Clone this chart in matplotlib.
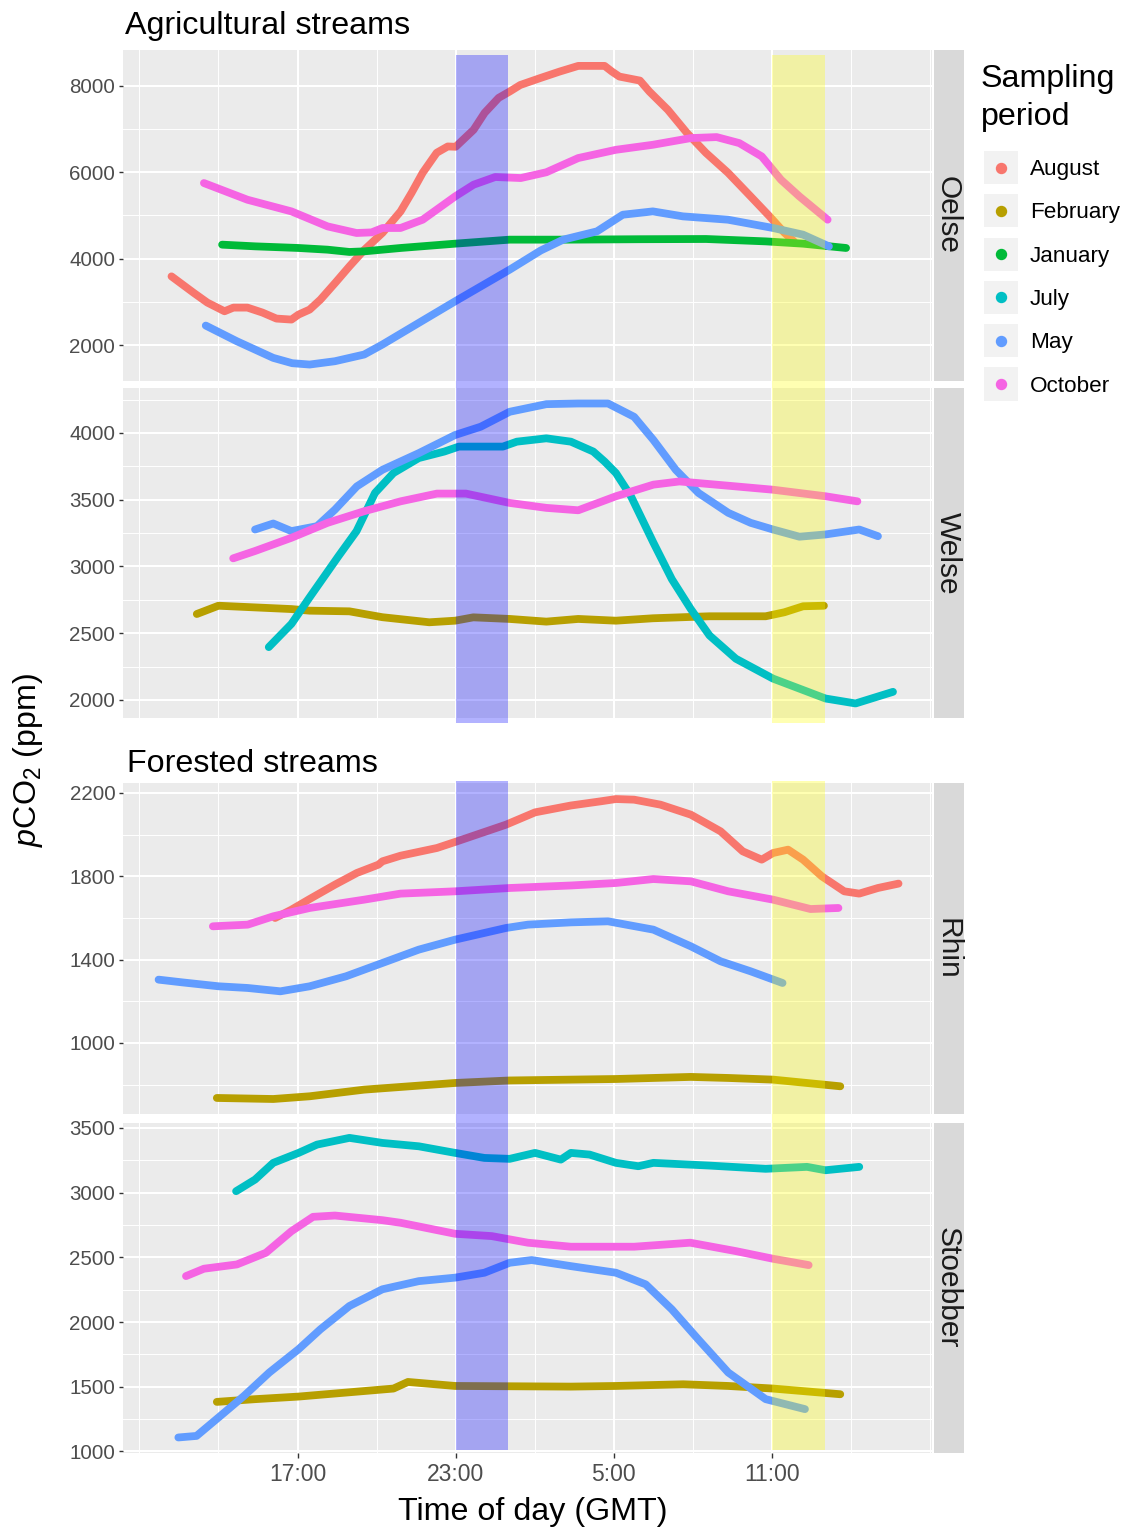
import matplotlib

matplotlib.use("Agg")
import matplotlib.pyplot as plt
from matplotlib.lines import Line2D
from matplotlib.patches import Rectangle
from matplotlib.transforms import blended_transform_factory

plt.rcParams["font.family"] = ["Liberation Sans", "DejaVu Sans"]
plt.rcParams["mathtext.fontset"] = "custom"
plt.rcParams["mathtext.rm"] = "Liberation Sans"
plt.rcParams["mathtext.it"] = "Liberation Sans:italic"

# Time axis is in hours from midnight of the first sampling day;
# values above 24 are the following morning (29 = 05:00, 35 = 11:00).
MONTHS = ["August", "February", "January", "July", "May", "October"]
COLOURS = ["#F8766D", "#B79F00", "#00BA38", "#00BFC4", "#619CFF", "#F564E3"]

XTICKS = [17, 23, 29, 35]
XTICK_LABELS = ["17:00", "23:00", "5:00", "11:00"]
XMINOR = [11, 14, 20, 26, 32, 38, 41]

NIGHT = (23, 25)   # 23:00 - 01:00
NOON = (35, 37)    # 11:00 - 13:00

OELSE = {
    "August": (
        [12.22, 13.05, 13.58, 14.23, 14.57, 15.10, 15.67, 16.20, 16.77, 17.04, 17.46,
         17.87, 18.44, 18.97, 19.54, 20.23, 20.91, 21.33, 21.75, 22.28, 22.70, 23.00,
         23.68, 24.10, 24.63, 25.05, 25.45, 26.23, 26.94, 27.65, 28.65, 28.93, 29.21,
         29.99, 30.35, 31.05, 31.77, 32.49, 33.33, 34.19, 34.91, 35.47, 35.83],
        [3590, 3214, 2983, 2782, 2867, 2867, 2752, 2613, 2590, 2706, 2821,
         3052, 3446, 3822, 4208, 4601, 5094, 5526, 5989, 6451, 6597, 6590,
         6983, 7376, 7722, 7869, 8020, 8185, 8330, 8462, 8462, 8330, 8215,
         8122, 7868, 7445, 6913, 6451, 5989, 5441, 4978, 4601, 4400],
    ),
    "January": (
        [14.14, 15.39, 17.04, 18.14, 18.97, 19.53, 20.91, 22.98, 25.05, 27.25, 30.0,
         32.5, 34.76, 36.18, 37.81],
        [4324, 4285, 4247, 4208, 4155, 4169, 4247, 4347, 4440, 4440, 4450,
         4455, 4400, 4347, 4247],
    ),
    "May": (
        [13.52, 14.70, 16.08, 16.80, 17.46, 18.42, 19.53, 20.22, 21.60, 22.98, 25.05,
         26.23, 27.08, 28.36, 29.34, 30.48, 31.62, 33.33, 35.04, 36.18, 37.16],
        [2451, 2088, 1703, 1580, 1549, 1626, 1781, 2012, 2513, 3013, 3746,
         4190, 4440, 4632, 5017, 5094, 4979, 4902, 4710, 4555, 4285],
    ),
    "October": (
        [13.45, 15.10, 16.77, 18.14, 19.24, 19.81, 20.23, 20.91, 21.75, 22.98, 23.68,
         24.50, 25.47, 26.44, 27.65, 29.08, 30.48, 31.92, 32.90, 33.76, 34.61, 35.34,
         36.04, 37.11],
        [5750, 5364, 5094, 4747, 4594, 4608, 4710, 4710, 4902, 5441, 5712,
         5890, 5866, 6000, 6329, 6520, 6636, 6791, 6814, 6675, 6367, 5827,
         5441, 4902],
    ),
}

WELSE = {
    "February": (
        [13.18, 14.0, 16.77, 17.46, 18.97, 20.22, 22.0, 22.98, 23.67, 25.05, 26.44,
         27.65, 29.08, 30.48, 32.63, 34.76, 35.47, 36.18, 36.97],
        [2644, 2706, 2681, 2669, 2664, 2620, 2582, 2594, 2619, 2607, 2587,
         2607, 2594, 2612, 2627, 2627, 2657, 2702, 2706],
    ),
    "July": (
        [15.91, 16.77, 17.46, 18.56, 19.24, 19.94, 20.64, 21.60, 22.57, 23.12, 24.79,
         25.32, 26.44, 27.37, 28.22, 28.65, 29.08, 29.65, 30.50, 31.20, 31.92, 32.63,
         33.63, 35.04, 37.03, 38.17, 39.59],
        [2396, 2570, 2769, 3079, 3265, 3551, 3700, 3812, 3861, 3898, 3898,
         3935, 3960, 3935, 3861, 3786, 3700, 3526, 3179, 2905, 2681, 2483,
         2309, 2160, 2011, 1974, 2061],
    ),
    "May": (
        [15.39, 16.08, 16.77, 17.74, 18.42, 19.25, 20.22, 21.60, 22.98, 23.95, 25.05,
         26.44, 27.65, 28.78, 29.77, 30.50, 31.35, 32.21, 33.34, 34.19, 35.04, 36.04,
         37.03, 38.31, 39.02],
        [3277, 3322, 3265, 3302, 3426, 3600, 3724, 3849, 3985, 4047, 4159,
         4216, 4221, 4221, 4121, 3948, 3724, 3551, 3402, 3327, 3277, 3223,
         3240, 3277, 3227],
    ),
    "October": (
        [14.56, 15.39, 16.77, 18.14, 19.53, 20.91, 22.29, 23.39, 25.05, 26.44, 27.65,
         29.08, 30.50, 31.49, 33.34, 35.04, 37.03, 38.24],
        [3061, 3116, 3215, 3327, 3414, 3488, 3546, 3546, 3476, 3439, 3421,
         3526, 3613, 3637, 3605, 3575, 3526, 3488],
    ),
}

RHIN = {
    "August": (
        [16.15, 16.77, 17.46, 18.42, 19.25, 20.07, 20.22, 20.91, 22.29, 23.05, 24.91,
         26.01, 27.37, 28.50, 29.08, 29.77, 30.77, 31.92, 33.05, 33.89, 34.61, 35.04,
         35.61, 36.18, 36.89, 37.74, 38.31, 39.02, 39.80],
        [1600, 1640, 1691, 1760, 1816, 1856, 1872, 1899, 1936, 1968, 2048,
         2107, 2140, 2160, 2171, 2168, 2144, 2096, 2016, 1920, 1880, 1912,
         1928, 1880, 1800, 1728, 1717, 1744, 1765],
    ),
    "February": (
        [13.94, 16.08, 17.46, 19.53, 22.98, 25.05, 27.37, 29.08, 31.92, 33.34, 35.04,
         37.59],
        [736, 731, 744, 776, 808, 820, 824, 827, 837, 832, 824,
         792],
    ),
    "May": (
        [11.73, 12.62, 14.01, 15.11, 16.35, 17.46, 18.84, 20.22, 21.60, 22.98, 24.91,
         25.74, 27.37, 28.78, 30.50, 31.92, 33.05, 34.19, 35.40],
        [1304, 1291, 1272, 1264, 1248, 1272, 1320, 1384, 1448, 1496, 1552,
         1568, 1579, 1584, 1544, 1464, 1392, 1344, 1288],
    ),
    "October": (
        [13.79, 15.11, 16.08, 17.46, 19.53, 20.91, 22.98, 25.05, 27.37, 29.08, 30.50,
         31.92, 33.34, 35.04, 36.46, 37.52],
        [1560, 1568, 1608, 1648, 1688, 1717, 1728, 1744, 1756, 1768, 1787,
         1776, 1728, 1688, 1643, 1648],
    ),
}

STOEBBER = {
    "February": (
        [13.94, 15.39, 17.04, 18.84, 20.64, 21.19, 22.98, 27.37, 29.08, 31.63, 33.34,
         35.04, 37.59],
        [1383, 1404, 1424, 1455, 1486, 1537, 1506, 1501, 1506, 1519, 1506,
         1486, 1442],
    ),
    "July": (
        [14.67, 15.39, 16.08, 17.04, 17.74, 18.97, 20.22, 21.60, 22.98, 24.09, 25.05,
         26.01, 26.99, 27.37, 28.08, 29.08, 29.93, 30.50, 32.63, 34.76, 36.33, 37.03,
         38.31],
        [3011, 3101, 3230, 3307, 3371, 3423, 3384, 3358, 3307, 3268, 3261,
         3307, 3255, 3307, 3294, 3230, 3204, 3230, 3209, 3184, 3199, 3173,
         3199],
    ),
    "May": (
        [12.48, 13.17, 14.0, 14.97, 15.93, 17.04, 17.87, 18.97, 20.22, 21.60, 22.98,
         24.09, 25.05, 25.88, 27.37, 29.08, 30.21, 31.20, 32.20, 33.34, 34.76, 36.25],
        [1108, 1120, 1262, 1429, 1610, 1790, 1944, 2124, 2253, 2316, 2343,
         2381, 2458, 2479, 2432, 2381, 2291, 2098, 1867, 1610, 1404, 1327],
    ),
    "October": (
        [12.77, 13.45, 14.70, 15.80, 16.77, 17.59, 18.42, 20.22, 20.91, 22.98, 24.37,
         25.74, 27.37, 29.77, 31.90, 33.63, 35.04, 36.39],
        [2355, 2412, 2445, 2535, 2702, 2813, 2823, 2787, 2767, 2682, 2664,
         2613, 2582, 2582, 2613, 2548, 2489, 2440],
    ),
}

W, H = 1127, 1530
PANEL_LEFT, PANEL_RIGHT = 123, 932
XLIM = (10.38, 41.07)

# name, data, top px, bottom px, ylim, major ticks, minor gridlines
PANELS = [
    ("Oelse", OELSE, 50, 381, (1168, 8830), [2000, 4000, 6000, 8000], [3000, 5000, 7000]),
    ("Welse", WELSE, 388, 718, (1865, 4337), [2000, 2500, 3000, 3500, 4000],
     [2250, 2750, 3250, 3750, 4250]),
    ("Rhin", RHIN, 783, 1114, (659, 2248), [1000, 1400, 1800, 2200], [800, 1200, 1600, 2000]),
    ("Stoebber", STOEBBER, 1123, 1453, (988, 3538), [1000, 1500, 2000, 2500, 3000, 3500],
     [1250, 1750, 2250, 2750, 3250]),
]


def fx(px):
    return px / W


def fy(py):
    return 1 - py / H


fig = plt.figure(figsize=(W / 100, H / 100), dpi=100)

axes = []
for i, (name, data, top, bottom, ylim, yticks, yminor) in enumerate(PANELS):
    ax = fig.add_axes([fx(PANEL_LEFT), fy(bottom), (PANEL_RIGHT - PANEL_LEFT) / W, (bottom - top) / H])
    ax.set_facecolor("#EBEBEB")
    for s in ax.spines.values():
        s.set_visible(False)
    ax.set_xlim(*XLIM)
    ax.set_ylim(*ylim)
    ax.set_xticks(XTICKS)
    ax.set_xticks(XMINOR, minor=True)
    ax.set_yticks(yticks)
    ax.set_yticks(yminor, minor=True)
    ax.grid(which="major", color="white", lw=1.5)
    ax.grid(which="minor", color="white", lw=0.7)
    ax.set_axisbelow(True)
    ax.tick_params(axis="y", which="major", length=3, width=1, color="#333333",
                   labelsize=14.8, labelcolor="#4D4D4D", pad=2.5)
    ax.tick_params(which="minor", length=0)
    if i == len(PANELS) - 1:
        ax.set_xticklabels(XTICK_LABELS)
        ax.tick_params(axis="x", which="major", length=3.5, width=1, color="#333333",
                       labelsize=16.5, labelcolor="#4D4D4D", pad=4)
    else:
        ax.tick_params(axis="x", which="major", length=0, labelbottom=False)

    for month, colour in zip(MONTHS, COLOURS):
        if month in data:
            t, v = data[month]
            ax.plot(t, v, color=colour, lw=5.6, solid_capstyle="round",
                    solid_joinstyle="round", zorder=3)

    # facet strip on the right
    sax = fig.add_axes([fx(934), fy(bottom), 30 / W, (bottom - top) / H])
    sax.set_facecolor("#D9D9D9")
    sax.set_xticks([])
    sax.set_yticks([])
    for s in sax.spines.values():
        s.set_visible(False)
    sax.text(0.45, 0.5, name, rotation=-90, ha="center", va="center",
             fontsize=21.5, color="#1A1A1A", transform=sax.transAxes)
    axes.append(ax)

# night and midday shading across each group of panels
tr = blended_transform_factory(axes[0].transData, fig.transFigure)
for top, bottom in [(55, 723), (781, 1450)]:
    for (x0, x1), colour in [(NIGHT, "blue"), (NOON, "yellow")]:
        rect = Rectangle((x0, fy(bottom)), x1 - x0, (bottom - top) / H, transform=tr,
                         facecolor=colour, edgecolor="none", alpha=0.3, zorder=10)
        fig.add_artist(rect)

fig.text(fx(125), fy(34), "Agricultural streams", fontsize=23.2, va="baseline", ha="left")
fig.text(fx(127), fy(772), "Forested streams", fontsize=23.2, va="baseline", ha="left")
fig.text(fx(533), fy(1520), "Time of day (GMT)", fontsize=23.2, va="baseline", ha="center")
fig.text(fx(28), fy(760), r"$p$CO$_2$ (ppm)", fontsize=23.2, rotation=90,
         ha="center", va="center")

# legend
fig.text(fx(981), fy(87), "Sampling", fontsize=23.2, va="baseline", ha="left")
fig.text(fx(981), fy(125), "period", fontsize=23.2, va="baseline", ha="left")
for i, (month, colour) in enumerate(zip(MONTHS, COLOURS)):
    cy = 167.5 + i * 43.3
    fig.add_artist(Rectangle((fx(984), fy(cy + 16.5)), 34 / W, 33 / H,
                             transform=fig.transFigure, facecolor="#F2F2F2", edgecolor="none"))
    fig.add_artist(Line2D([fx(1001)], [fy(cy)], marker="o", ms=7.2, color=colour,
                          linestyle="none", transform=fig.transFigure))
    fig.text(fx(1030), fy(cy + 7.5), month, fontsize=16.2, va="baseline", ha="left")

fig.savefig("out.png", dpi=100)
